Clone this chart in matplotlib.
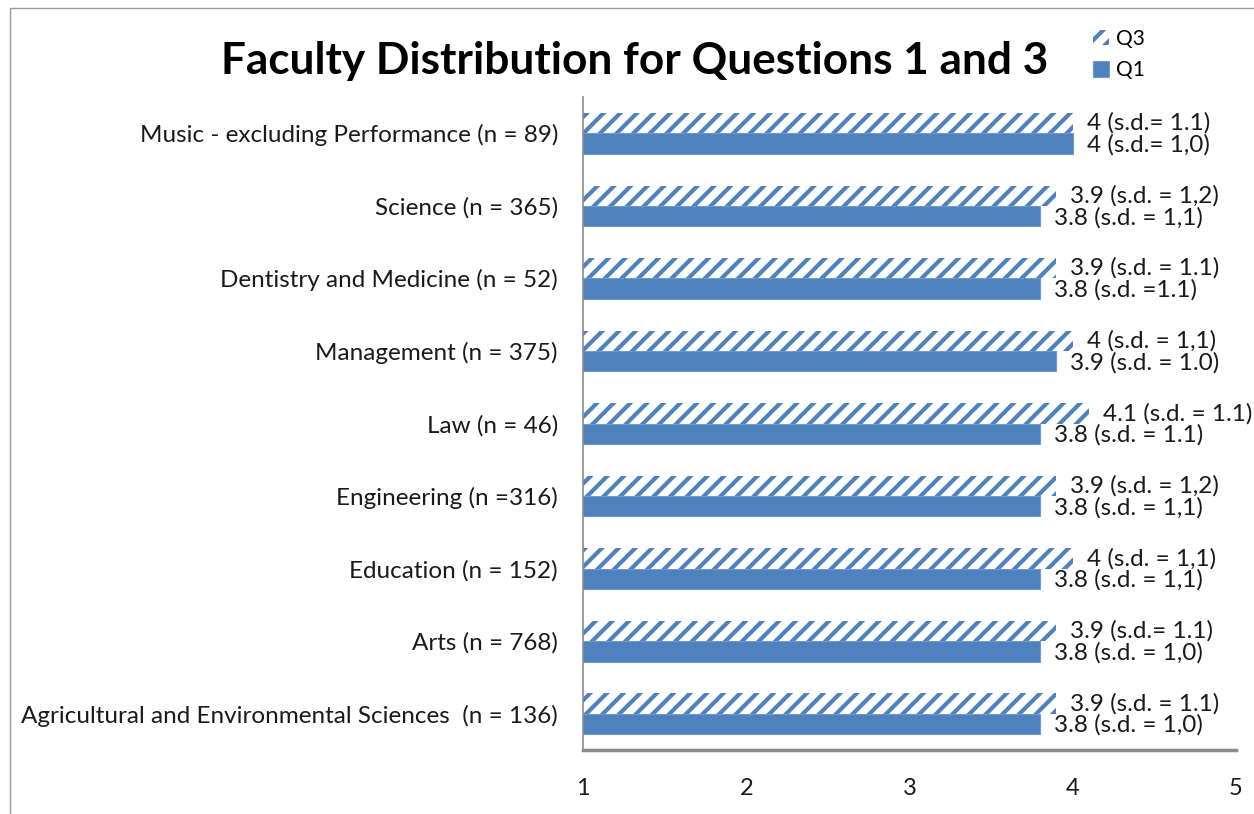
import matplotlib.pyplot as plt
import numpy as np
from matplotlib.patches import Rectangle

plt.rcParams["font.family"] = ["Lato", "DejaVu Sans"]
plt.rcParams["hatch.linewidth"] = 3.0

# bottom to top, as drawn by barh
faculties = [
    "Agricultural and Environmental Sciences  (n = 136)",
    "Arts (n = 768)",
    "Education (n = 152)",
    "Engineering (n =316)",
    "Law (n = 46)",
    "Management (n = 375)",
    "Dentistry and Medicine (n = 52)",
    "Science (n = 365)",
    "Music - excluding Performance (n = 89)",
]
q3_values = [3.9, 3.9, 4.0, 3.9, 4.1, 4.0, 3.9, 3.9, 4.0]
q1_values = [3.8, 3.8, 3.8, 3.8, 3.8, 3.9, 3.8, 3.8, 4.0]
q3_labels = [
    "3.9 (s.d. = 1.1)", "3.9 (s.d.= 1.1)", "4 (s.d. = 1,1)",
    "3.9 (s.d. = 1,2)", "4.1 (s.d. = 1.1)", "4 (s.d. = 1,1)",
    "3.9 (s.d. = 1.1)", "3.9 (s.d. = 1,2)", "4 (s.d.= 1.1)",
]
q1_labels = [
    "3.8 (s.d. = 1,0)", "3.8 (s.d. = 1,0)", "3.8 (s.d. = 1,1)",
    "3.8 (s.d. = 1,1)", "3.8 (s.d. = 1.1)", "3.9 (s.d. = 1.0)",
    "3.8 (s.d. =1.1)", "3.8 (s.d. = 1,1)", "4 (s.d.= 1,0)",
]
x_ticks = [1, 2, 3, 4, 5]

blue = "#4F81BD"

fig = plt.figure(figsize=(12.54, 8.14), dpi=100)
ax = fig.add_axes([0.4649, 0.0786, 0.5207, 0.8022])

y = np.arange(len(faculties))
h = 0.28
q3_bars = ax.barh(y + h / 2, q3_values, height=h, color="white",
                  edgecolor=blue, hatch="//", linewidth=0, label="Q3")
q1_bars = ax.barh(y - h / 2, q1_values, height=h, color=blue,
                  edgecolor="#6F9AD0", linewidth=0.8, label="Q1")

for bar, text in zip(q3_bars, q3_labels):
    ax.annotate(text, (bar.get_width(), bar.get_y() + bar.get_height() / 2),
                xytext=(10, 0), textcoords="offset points",
                va="center", ha="left", fontsize=17.5, color="#1a1a1a",
                annotation_clip=False)
for bar, text in zip(q1_bars, q1_labels):
    ax.annotate(text, (bar.get_width(), bar.get_y() + bar.get_height() / 2),
                xytext=(10, -1), textcoords="offset points",
                va="center", ha="left", fontsize=17.5, color="#1a1a1a",
                annotation_clip=False)

ax.set_xlim(1, 5)
ax.set_ylim(-0.5, len(faculties) - 0.5)
ax.set_xticks(x_ticks)
ax.set_yticks(y)
ax.set_yticklabels(faculties, fontsize=17.5, color="#1a1a1a")
ax.tick_params(axis="x", length=0, pad=20, labelsize=17, labelcolor="#1a1a1a")
ax.tick_params(axis="y", length=0, pad=18)

for side in ("top", "right"):
    ax.spines[side].set_visible(False)
ax.spines["left"].set_color("#8c8c8c")
ax.spines["left"].set_linewidth(1.2)
ax.spines["bottom"].set_color("#8c8c8c")
ax.spines["bottom"].set_linewidth(2.5)

fig.text(0.506, 0.925, "Faculty Distribution for Questions 1 and 3",
         ha="center", va="center", fontsize=31.8, fontweight="bold")

leg = fig.legend(handles=[q3_bars, q1_bars], labels=["Q3", "Q1"],
                 loc="upper left", bbox_to_anchor=(0.865, 0.975),
                 frameon=False, fontsize=15, handlelength=0.75,
                 handleheight=0.75, handletextpad=0.35, labelspacing=0.55,
                 borderaxespad=0)

# outer chart frame (runs off the right and bottom edge)
fig.patches.append(Rectangle((10 / 1254, -0.1), 1.2, 1.1 - 8 / 814,
                             transform=fig.transFigure, fill=False,
                             edgecolor="#9a9a9a", linewidth=1))

fig.savefig("out.png", dpi=100)
